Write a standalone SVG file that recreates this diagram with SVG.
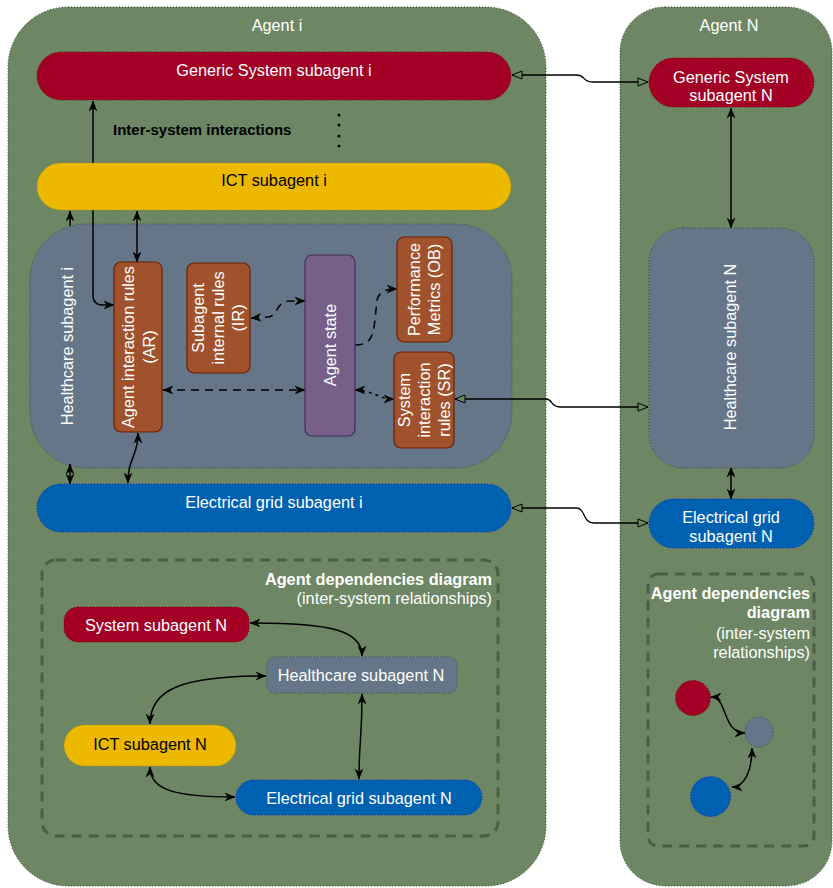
<svg xmlns="http://www.w3.org/2000/svg" width="833" height="888" viewBox="0 0 833 888">
<style>
text{font-family:"Liberation Sans",Arial,sans-serif;font-size:16.3px;fill:#fff}
.c{text-anchor:middle}
.r{text-anchor:end}
.b{font-weight:bold}
.k{fill:#000}
.agent{fill:#6d8764;stroke:#2f4529;stroke-width:1;stroke-dasharray:1 2}
.red{fill:#a20025;stroke:#6f0000;stroke-width:1;stroke-dasharray:1 2}
.yel{fill:#ecb800;stroke:#b09000;stroke-width:1;stroke-dasharray:1 2}
.blu{fill:#0061b0;stroke:#001dbc;stroke-width:1;stroke-dasharray:1 2}
.hc{fill:#647687;stroke:#314354;stroke-width:1;stroke-dasharray:1 2}
.sie{fill:#a0522d;stroke:#6d1f00;stroke-width:1.2}
.pur{fill:#76608a;stroke:#432d57;stroke-width:1.2}
.dep{fill:none;stroke:#4b5e46;stroke-width:3;stroke-dasharray:10 7}
.e{fill:none;stroke:#000;stroke-width:1.5}
.d{stroke-dasharray:8 6}
.ds{stroke-dasharray:3 4}
.o{fill:none;stroke:#000;stroke-width:1.3}
.a2{marker-start:url(#ar);marker-end:url(#ar)}
.a1{marker-end:url(#ar)}
.ot{marker-start:url(#op);marker-end:url(#op)}
</style>
<defs>
<marker id="ar" viewBox="0 0 10 10" refX="9.5" refY="5" markerWidth="11" markerHeight="11" markerUnits="userSpaceOnUse" orient="auto-start-reverse">
<path d="M0,1 L10,5 L0,9 L3,5 z" fill="#000"/>
</marker>
<marker id="op" viewBox="0 0 12 10" refX="11" refY="5" markerWidth="12" markerHeight="10" markerUnits="userSpaceOnUse" orient="auto-start-reverse">
<path d="M1,1 L11,5 L1,9 z" fill="#6d8764" stroke="#000" stroke-width="1"/>
</marker>
</defs>

<g id="agent-i">
<rect class="agent" x="8" y="7" width="538" height="879" rx="60"/>
<text class="c" x="277" y="31">Agent i</text>
</g>
<g id="agent-n">
<rect class="agent" x="620" y="7" width="212" height="879" rx="45"/>
<text class="c" x="729" y="31">Agent N</text>
</g>

<g id="healthcare-i">
<rect class="hc" x="30" y="224" width="482" height="244" rx="56"/>
<text class="c" transform="translate(67,346) rotate(-90)" y="5.5">Healthcare subagent i</text>
</g>

<g id="connectors">
<path class="o ot" d="M512,75 L577,75 C585,75 583,82 592,82 L648,82"/>
<path class="o ot" d="M455,399 L546,399 C553,399 550,407 560,407 L648,407"/>
<path class="o ot" d="M512,508 L576,508 C586,508 582,523 594,523 L648,523"/>
<path class="e a2" d="M731,108 L731,228"/>
<path class="e a2" d="M731,467 L731,499"/>
<path class="e a1" d="M93,163 L93,101"/>
<path class="e a1" d="M93,210 L93,295 Q93,305 103,305 L114,305"/>
<path class="e a1" d="M70,226 L70,211"/>
<path class="e a2" d="M137,211 L137,262"/>
<path class="e a2" d="M70,464 L70,484"/>
<path class="e a2" d="M138,433 C138,458 128,456 128,483"/>
<path class="e d a2" d="M163,390 L305,390"/>
<path class="e d a2" d="M251,318 L268,317 C278,316 276,301 290,301 L305,301"/>
<path class="e d a1" d="M355,345 C372,345 373,335 375,320 L377,300 C379,292 385,289 397,289"/>
<path class="e ds a2" d="M355,390 C372,390 378,399 394,399"/>
<path class="e a2" d="M250,623 C330,623 362,630 362,656"/>
<path class="e a2" d="M266,676 C180,676 150,690 150,724"/>
<path class="e a2" d="M362,694 C362,740 359,740 359,779"/>
<path class="e a2" d="M150,767 C150,790 175,797 235,797"/>
<path class="e a2" d="M711,697 C728,697 722,733 745,733"/>
<path class="e a2" d="M752,748 C752,770 745,787 732,787"/>
</g>

<g id="generic-i">
<rect class="red" x="37" y="52" width="474" height="48" rx="24"/>
<text class="c" x="274" y="75.5">Generic System subagent i</text>
</g>
<g id="inter-system-label">
<text class="b k" x="113" y="135" style="font-size:15px">Inter-system interactions</text>
<circle cx="339" cy="115" r="1.5" fill="#000"/>
<circle cx="339" cy="125" r="1.5" fill="#000"/>
<circle cx="339" cy="136" r="1.5" fill="#000"/>
<circle cx="339" cy="146" r="1.5" fill="#000"/>
</g>
<g id="ict-i">
<rect class="yel" x="37" y="163" width="474" height="47" rx="23.5"/>
<text class="c k" x="274" y="186">ICT subagent i</text>
</g>
<g id="ar">
<rect class="sie" x="114" y="262" width="48" height="170" rx="7"/>
<g transform="translate(138,347) rotate(-90)">
<text class="c" y="-4.5">Agent interaction rules</text>
<text class="c" y="16.5">(AR)</text>
</g>
</g>
<g id="ir">
<rect class="sie" x="187" y="263" width="63" height="110" rx="7"/>
<g transform="translate(218.5,318) rotate(-90)">
<text class="c" y="-14.5">Subagent</text>
<text class="c" y="5.5">internal rules</text>
<text class="c" y="25.5">(IR)</text>
</g>
</g>
<g id="agent-state">
<rect class="pur" x="305" y="255" width="50" height="181" rx="7"/>
<text class="c" transform="translate(330,345) rotate(-90)" y="5.5">Agent state</text>
</g>
<g id="pm">
<rect class="sie" x="397" y="237" width="55" height="105" rx="7"/>
<g transform="translate(424.5,289.5) rotate(-90)">
<text class="c" y="-4.5">Performance</text>
<text class="c" y="15.5">Metrics (OB)</text>
</g>
</g>
<g id="sr">
<rect class="sie" x="394" y="352" width="60" height="96" rx="7"/>
<g transform="translate(424,400) rotate(-90)">
<text class="c" y="-14.5">System</text>
<text class="c" y="5.5">interaction</text>
<text class="c" y="25.5">rules (SR)</text>
</g>
</g>
<g id="electrical-i">
<rect class="blu" x="37" y="484" width="474" height="48" rx="24"/>
<text class="c" x="274" y="508">Electrical grid subagent i</text>
</g>

<g id="generic-n">
<rect class="red" x="649" y="58" width="165" height="49" rx="24.5"/>
<text class="c" x="731" y="82.5">Generic System</text>
<text class="c" x="731" y="101">subagent N</text>
</g>
<g id="healthcare-n">
<rect class="hc" x="649" y="228" width="165" height="240" rx="34"/>
<text class="c" transform="translate(730,347) rotate(-90)" y="5.5">Healthcare subagent N</text>
</g>
<g id="electrical-n">
<rect class="blu" x="649" y="499" width="165" height="49" rx="24.5"/>
<text class="c" x="731" y="522.5">Electrical grid</text>
<text class="c" x="731" y="541.5">subagent N</text>
</g>

<g id="deps-i">
<rect class="dep" x="42" y="560" width="456" height="276" rx="14"/>
<text class="r b" x="492" y="584.5">Agent dependencies diagram</text>
<text class="r" x="492" y="604">(inter-system relationships)</text>
</g>
<g id="dep-system-n">
<rect class="red" x="64" y="607" width="185" height="35" rx="14"/>
<text class="c" x="156" y="631">System subagent N</text>
</g>
<g id="dep-healthcare-n">
<rect class="hc" x="267" y="657" width="190" height="36" rx="8"/>
<text class="c" x="361" y="681">Healthcare subagent N</text>
</g>
<g id="dep-ict-n">
<rect class="yel" x="64" y="725" width="172" height="41" rx="20.5"/>
<text class="c k" x="150" y="750">ICT subagent N</text>
</g>
<g id="dep-electrical-n">
<rect class="blu" x="236" y="780" width="246" height="35" rx="17.5"/>
<text class="c" x="359" y="804">Electrical grid subagent N</text>
</g>

<g id="deps-n">
<rect class="dep" x="648" y="574" width="166" height="272" rx="10"/>
<text class="r b" x="810" y="598.5">Agent dependencies</text>
<text class="r b" x="810" y="618">diagram</text>
<text class="r" x="810" y="639">(inter-system</text>
<text class="r" x="810" y="658">relationships)</text>
</g>
<g id="dep-n-red"><circle class="red" cx="693" cy="698" r="17.5"/></g>
<g id="dep-n-grey"><ellipse class="hc" cx="759" cy="732" rx="14" ry="15"/></g>
<g id="dep-n-blue"><circle class="blu" cx="710.5" cy="796.5" r="20"/></g>
</svg>
